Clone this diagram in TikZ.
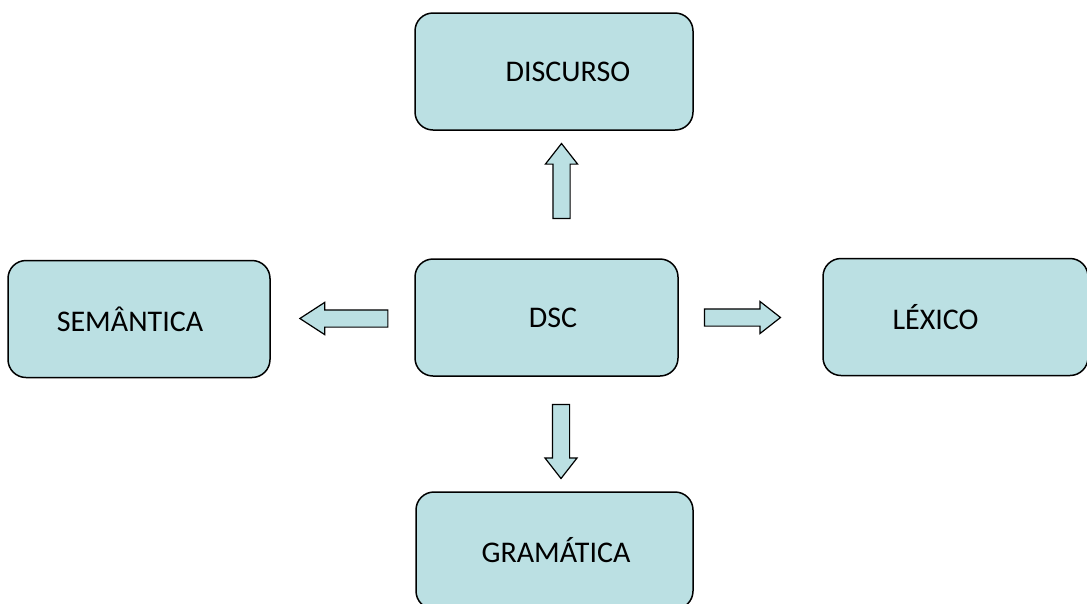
\documentclass[tikz,border=0pt]{standalone}
\usepackage{fontspec}
\setmainfont{Carlito}
\usepackage{tikz}
\usetikzlibrary{positioning}
\usetikzlibrary{shapes.arrows}
\definecolor{boxfill}{RGB}{187,224,227}

\begin{document}
\begin{tikzpicture}[x=1pt,y=-1pt,
    every node/.style={font=\fontsize{30}{36}\selectfont},
    box/.style={draw,line width=1.5pt,rounded corners=18pt,fill=boxfill,minimum height=117pt},
    blockarrow/.style={single arrow,draw,line width=1.2pt,fill=boxfill,inner sep=8pt,
        minimum width=31pt,single arrow head extend=7.5pt,single arrow tip angle=76}]

\useasboundingbox (0,0) rectangle (1087,603);

% the five boxes
\node[box,minimum width=263pt,label={[xshift=6.5pt]center:DSC}] (dsc) at (546.5,317.5) {};
\node[box,minimum width=278pt,label={[xshift=14pt]center:DISCURSO}] (disc) at (554,71.5) {};
\node[box,minimum width=262pt,label={[xshift=-9pt]center:SEMÂNTICA}] (sem) at (139,319) {};
\node[box,minimum width=265pt,label={[xshift=-20pt]center:LÉXICO}] (lex) at (955.5,317) {};
\node[box,minimum width=277pt,label={[xshift=1.5pt]center:GRAMÁTICA}] (gram) at (554.5,550.5) {};

% block arrows out of DSC
\node[blockarrow,minimum height=75pt,shape border rotate=90] (toDisc) at (561.5,186.5) {};
\node[blockarrow,minimum height=88pt,shape border rotate=180,single arrow tip angle=66] (toSem) at (350.5,318.5) {};
\node[blockarrow,minimum height=76pt] (toLex) at (737,317.5) {};
\node[blockarrow,minimum height=74pt,shape border rotate=270] (toGram) at (561,436) {};
\end{tikzpicture}
\end{document}
